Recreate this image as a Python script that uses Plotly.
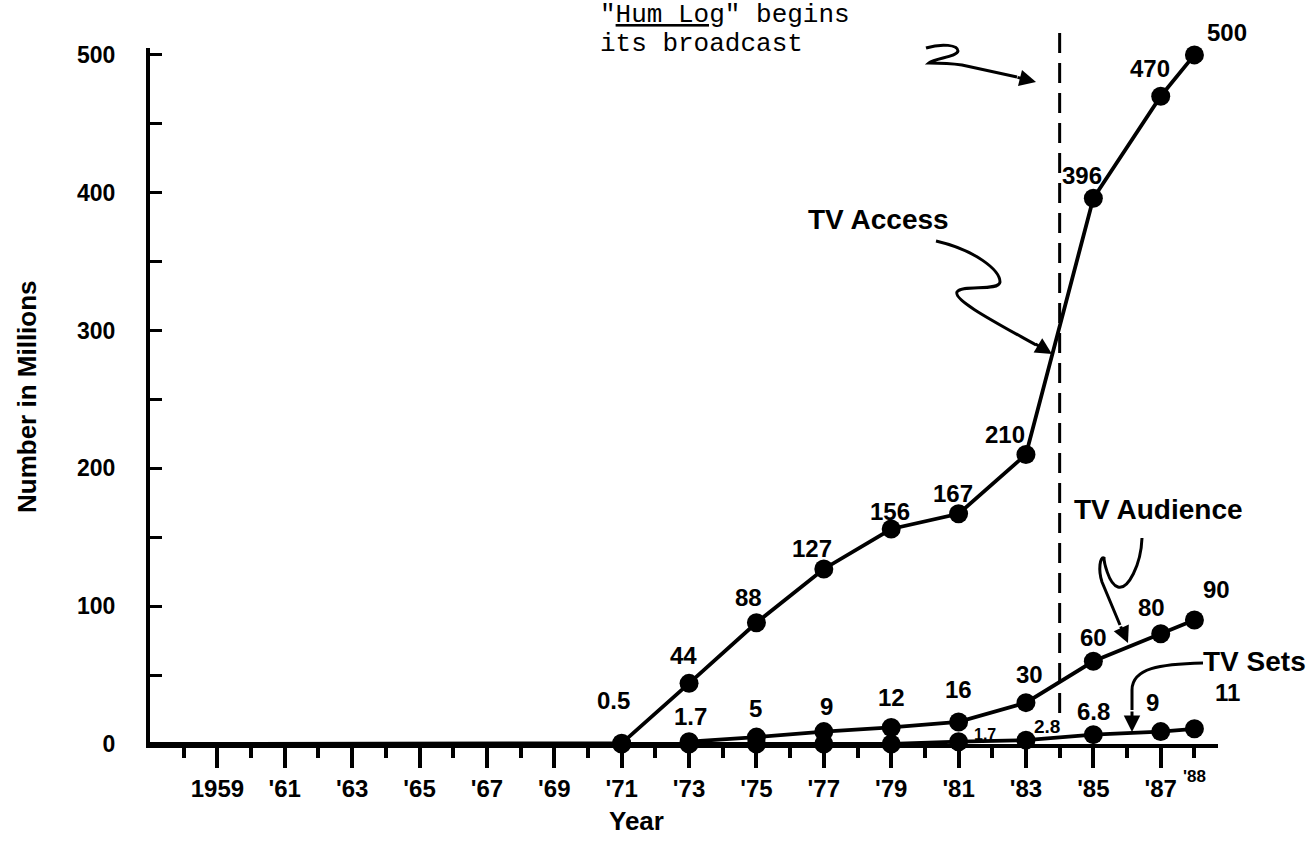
import plotly.graph_objects as go

# ---------------- data ----------------
access_years = [1957, 1971, 1973, 1975, 1977, 1979, 1981, 1983, 1985, 1987, 1988]
access_vals = [0, 0.5, 44, 88, 127, 156, 167, 210, 396, 470, 500]

audience_years = [1973, 1975, 1977, 1979, 1981, 1983, 1985, 1987, 1988]
audience_vals = [1.7, 5, 9, 12, 16, 30, 60, 80, 90]

sets_years = [1957, 1971, 1973, 1975, 1977, 1979, 1981, 1983, 1985, 1987, 1988]
sets_vals = [0, 0, 0, 0, 0, 0, 1.7, 2.8, 6.8, 9, 11]

x_tick_years = [1959, 1961, 1963, 1965, 1967, 1969, 1971, 1973, 1975, 1977, 1979, 1981, 1983, 1985, 1987]
x_tick_text = ["1959", "'61", "'63", "'65", "'67", "'69", "'71", "'73", "'75", "'77", "'79", "'81", "'83", "'85", "'87"]
y_tick_vals = [0, 100, 200, 300, 400, 500]
hum_log_year = 1984

# ---------------- style / layout ----------------
W, H = 1316, 854
L, R, T, B = 150, 98, 48, 110
X0, X1 = 1957, 1988.7
Y0, Y1 = 0, 505
PW, PH = W - L - R, H - T - B
FONT = "Liberation Sans"
MONO = "Liberation Mono"
BLACK = "black"


def px(xp):  # pixel -> paper x
    return (xp - L) / PW


def py(yp):  # pixel -> paper y
    return (H - B - yp) / PH


fig = go.Figure()

MS = 19
access_msize = [0] + [MS] * (len(access_vals) - 1)
sets_msize = [0] + [MS] * (len(sets_vals) - 1)
aud_msize = [MS] * len(audience_vals)

for xs, ys, ms, name in [
    (access_years, access_vals, access_msize, "TV Access"),
    (audience_years, audience_vals, aud_msize, "TV Audience"),
    (sets_years, sets_vals, sets_msize, "TV Sets"),
]:
    fig.add_trace(go.Scatter(
        x=xs, y=ys, mode="lines+markers", name=name,
        line=dict(color=BLACK, width=3.8),
        marker=dict(color=BLACK, size=ms, opacity=1, line=dict(width=0, color=BLACK)),
        opacity=1, cliponaxis=False, showlegend=False, hoverinfo="x+y",
    ))

# value labels: (label offset in px: dx right, dy up; font size)
access_lab = [None, (-8, 43, 24), (-6, 28, 24), (-8, 25, 24), (-12, 20, 24), (-1, 18, 24),
              (-6, 20, 24), (-21, 20, 24), (-11, 23, 24), (-11, 28, 24), (33, 22, 24)]
aud_lab = [(1, 25, 24), (-1, 29, 24), (3, 25, 24), (0, 30, 24), (0, 32, 24),
           (4, 28, 24), (0, 24, 24), (-9, 26, 24), (22, 30, 24)]
sets_lab = [None, None, None, None, None, None, (26, 7, 16), (21, 14, 19),
            (0, 23, 24), (-8, 29, 24), (33, 36, 24)]

annotations = []
for xs, ys, labs in [(access_years, access_vals, access_lab),
                     (audience_years, audience_vals, aud_lab),
                     (sets_years, sets_vals, sets_lab)]:
    for x, y, lab in zip(xs, ys, labs):
        if lab is None:
            continue
        dx, dy, fs = lab
        annotations.append(dict(
            x=x, y=y, xref="x", yref="y", text=f"{y:g}", showarrow=False,
            xshift=dx, yshift=dy, xanchor="center", yanchor="middle",
            font=dict(family=FONT, size=fs, color=BLACK, weight="bold"),
        ))

# '88 tick label (smaller, raised)
annotations.append(dict(
    x=1988, y=py(777), xref="x", yref="paper", text="'88", showarrow=False,
    xanchor="center", yanchor="middle",
    font=dict(family=FONT, size=17, color=BLACK, weight="bold")))

# axis titles
annotations.append(dict(
    x=px(636), y=py(821), xref="paper", yref="paper", text="Year", showarrow=False,
    xanchor="center", yanchor="middle",
    font=dict(family=FONT, size=26, color=BLACK, weight="bold")))
annotations.append(dict(
    x=px(27), y=py(397), xref="paper", yref="paper", text="Number in Millions",
    showarrow=False, textangle=-90, xanchor="center", yanchor="middle",
    font=dict(family=FONT, size=26, color=BLACK, weight="bold")))

# series call-outs
for txt, cx, cy in [("TV Access", 879, 219), ("TV Audience", 1158, 509), ("TV Sets", 1254, 661)]:
    annotations.append(dict(
        x=px(cx), y=py(cy), xref="paper", yref="paper", text=txt, showarrow=False,
        xanchor="center", yanchor="middle",
        font=dict(family=FONT, size=28, color=BLACK, weight="bold")))

# Hum Log note
annotations.append(dict(
    x=px(598), y=py(15), xref="paper", yref="paper",
    text='"<u>Hum Log</u>" begins', showarrow=False, xanchor="left", yanchor="middle",
    font=dict(family=MONO, size=26, color=BLACK)))
annotations.append(dict(
    x=px(598), y=py(44), xref="paper", yref="paper",
    text="its broadcast", showarrow=False, xanchor="left", yanchor="middle",
    font=dict(family=MONO, size=26, color=BLACK)))

# arrowheads (tip position in px, tail offset in px)
for tipx, tipy, ax, ay in [(1052, 354, -18, -11), (1036, 82, -20, -5),
                           (1128, 643, -8, -18), (1132, 732, 0, -22)]:
    annotations.append(dict(
        x=px(tipx), y=py(tipy), xref="paper", yref="paper", text="",
        showarrow=True, ax=ax, ay=ay, arrowhead=2, arrowsize=1.1, arrowwidth=3,
        arrowcolor=BLACK))


def path_px(cmds):
    out = []
    for c in cmds:
        if isinstance(c, str):
            out.append(c)
        else:
            out.append(f"{px(c[0]):.5f},{py(c[1]):.5f}")
    return " ".join(out)


shapes = []
squiggles = [
    # TV Access
    ["M", (936, 241), "C", (975, 250), (1000, 270), (1000, 282),
     "C", (999, 292), (962, 284), (957, 292), "C", (953, 300), (995, 322), (1036, 345)],
    # Hum Log
    ["M", (926, 48), "C", (942, 43), (958, 45), (958, 51), "C", (957, 57), (935, 58), (929, 63),
     "C", (945, 63), (955, 64), (962, 65), "L", (1017, 77)],
    # TV Audience
    ["M", (1142, 538), "C", (1141, 565), (1128, 590), (1118, 587),
     "C", (1108, 584), (1104, 560), (1104, 558), "C", (1100, 556), (1098, 570), (1102, 582),
     "L", (1120, 625)],
    # TV Sets
    ["M", (1203, 663), "C", (1160, 664), (1132, 668), (1132, 690), "L", (1132, 710)],
]
for sq in squiggles:
    shapes.append(dict(type="path", xref="paper", yref="paper", path=path_px(sq),
                       line=dict(color=BLACK, width=3)))

# dashed "Hum Log" line
shapes.append(dict(type="line", xref="x", yref="paper", x0=hum_log_year, x1=hum_log_year,
                   y0=py(713), y1=py(30), line=dict(color=BLACK, width=3, dash="20px,10px")))

fig.update_layout(
    width=W, height=H,
    margin=dict(l=L, r=R, t=T, b=B),
    paper_bgcolor="white", plot_bgcolor="white",
    annotations=annotations, shapes=shapes,
    xaxis=dict(
        range=[X0, X1], showgrid=False, zeroline=False,
        showline=True, linecolor=BLACK, linewidth=4,
        ticks="outside", tickvals=x_tick_years, ticktext=x_tick_text,
        ticklen=20, tickwidth=3.5, tickcolor=BLACK, ticklabelstandoff=0,
        tickfont=dict(family=FONT, size=24, color=BLACK, weight="bold"),
        minor=dict(ticks="outside", tick0=1958, dtick=2, ticklen=10, tickwidth=3.5,
                   tickcolor=BLACK, showgrid=False),
    ),
    yaxis=dict(
        range=[Y0, Y1], showgrid=False, zeroline=False,
        showline=True, linecolor=BLACK, linewidth=4,
        ticks="inside", tickvals=y_tick_vals, ticklen=12, tickwidth=3, tickcolor=BLACK,
        ticklabelstandoff=26,
        tickfont=dict(family=FONT, size=23, color=BLACK, weight="bold"),
        minor=dict(ticks="inside", tick0=0, dtick=50, ticklen=12, tickwidth=3,
                   tickcolor=BLACK, showgrid=False),
    ),
)

fig.write_html(
    "out.html",
    config={"displayModeBar": False},
    post_script="document.body.style.margin='0';document.body.style.overflow='hidden';",
)
